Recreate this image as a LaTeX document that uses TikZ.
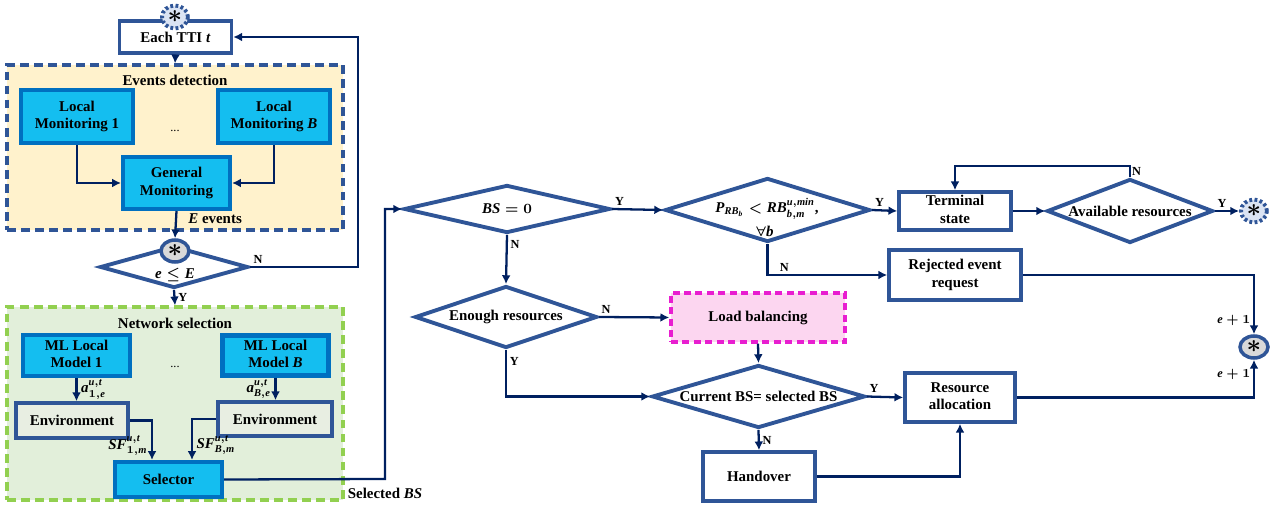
\documentclass[tikz,border=0pt]{standalone}
\usepackage{fontspec}
\setmainfont{Liberation Serif}
\usepackage{amsmath}
\usetikzlibrary{shapes.geometric,arrows.meta}

\definecolor{boxblue}{RGB}{47,85,151}
\definecolor{arrblue}{RGB}{0,32,96}
\definecolor{cyanfill}{RGB}{20,190,240}
\definecolor{cyanline}{RGB}{0,112,192}
\definecolor{evfill}{RGB}{255,242,204}
\definecolor{nsfill}{RGB}{226,239,218}
\definecolor{nsline}{RGB}{146,208,80}
\definecolor{envfill}{RGB}{232,238,226}
\definecolor{lbfill}{RGB}{252,214,240}
\definecolor{lbline}{RGB}{232,30,208}
\definecolor{starfill}{RGB}{217,217,217}
\definecolor{dotfill}{RGB}{218,227,243}

\newcommand{\starmark}{\fontsize{14}{14}\selectfont$\ast$}
\newcommand{\dtext}[1]{\makebox[0pt]{#1}}
\newcommand{\mv}[1]{\text{\itshape #1}}

\tikzset{
	every node/.style={font=\fontsize{8.5}{10}\selectfont\bfseries\boldmath},
	plainbox/.style={draw=boxblue, line width=2pt, fill=white, inner sep=0pt},
	cyanbox/.style={draw=cyanline, line width=2.3pt, fill=cyanfill, inner sep=0pt},
	envbox/.style={draw=boxblue, line width=2pt, fill=envfill, inner sep=0pt},
	decision/.style={diamond, draw=boxblue, line width=2.2pt, fill=white, inner sep=0pt},
	group/.style={line width=1.9pt, inner sep=0pt, dash pattern=on 5pt off 3pt},
	arr/.style={draw=arrblue, line width=1.3pt, -{Latex[length=5pt,width=5pt]}},
	lbl/.style={font=\fontsize{7}{8}\selectfont\bfseries\boldmath, inner sep=1.5pt},
	loopstar/.style={ellipse, draw=boxblue, line width=2pt, fill=starfill, minimum width=0.56cm, minimum height=0.44cm, inner sep=0pt},
	endstar/.style={ellipse, draw=boxblue, line width=2.2pt, fill=dotfill, dash pattern=on 1.6pt off 1.4pt, minimum width=0.52cm, minimum height=0.46cm, inner sep=0pt}
}

\begin{document}
\begin{tikzpicture}[x=0.02cm, y=-0.02cm]
	\useasboundingbox (0,0) rectangle (1272,506);

	% events detection
	\node[group, draw=boxblue, fill=evfill, minimum width=6.72cm, minimum height=3.3cm] (evbox) at (175,147.5) {};
	\node (evtitle) at (175,80) {Events detection};
	\node[plainbox, minimum width=2.24cm, minimum height=0.64cm] (tti) at (175.5,37) {Each TTI \textit{t}};
	\node[endstar] (topstar) at (175,17) {\starmark};
	\node[cyanbox, minimum width=2.24cm, minimum height=1.06cm] (lm1) at (77,116.5) {\begin{tabular}{c} Local \\ Monitoring 1 \end{tabular}};
	\node[cyanbox, minimum width=2.24cm, minimum height=1.06cm] (lmb) at (274,116.5) {\begin{tabular}{c} Local \\ Monitoring \textit{B} \end{tabular}};
	\node[font=\fontsize{7}{8}\selectfont] (dots1) at (175,131) {...};
	\node[cyanbox, minimum width=2.14cm, minimum height=1.04cm] (gm) at (176.5,183) {\begin{tabular}{c} General \\ Monitoring \end{tabular}};
	\draw[arr] (tti.south) -- (evbox.north);
	\draw[arr] (lm1.south) |- (gm.west);
	\draw[arr] (lmb.south) |- (gm.east);

	% loop over events
	\node[decision, minimum width=2.96cm, minimum height=0.84cm] (ele) at (174,267) {};
	\node[loopstar] (elestar) at (175,251) {\starmark};
	\node (eletext) at (175,275) {$\mv{e} \leq \mv{E}$};
	\coordinate (nback) at (358,267);
	\draw[arr] (gm.south) -- (elestar.north) node[pos=0.3, right=3pt] (evlbl) {\textit{E} events};
	\draw[arr] (ele.east) node[lbl, above right] (nele) {N} -- (nback) |- (tti.east);

	% network selection
	\node[group, draw=nsline, fill=nsfill, minimum width=6.72cm, minimum height=3.86cm] (nsbox) at (175,403.5) {};
	\draw[arr] (ele.south) -- (nsbox.north) node[midway, right, lbl] (yele) {Y};
	\node (nstitle) at (175,323) {Network selection};
	\node[cyanbox, minimum width=2.14cm, minimum height=0.82cm] (ml1) at (76.5,355.5) {\begin{tabular}{c} ML Local \\ Model 1 \end{tabular}};
	\node[cyanbox, minimum width=2.12cm, minimum height=0.8cm] (mlb) at (275.5,355.5) {\begin{tabular}{c} ML Local \\ Model \textit{B} \end{tabular}};
	\node[font=\fontsize{7}{8}\selectfont] (dots2) at (175,367) {...};
	\node[envbox, minimum width=2.24cm, minimum height=0.7cm] (env1) at (72,420.5) {Environment};
	\node[envbox, minimum width=2.28cm, minimum height=0.68cm] (envb) at (275,419) {Environment};
	\node[cyanbox, minimum width=2.14cm, minimum height=0.7cm] (sel) at (168.5,479.5) {Selector};
	\draw[arr] (ml1.south) -- (ml1.south |- env1.north) node[midway, right, inner sep=2pt] (a1) {$\mv{a}^{\mv{u},\mv{t}}_{1,\mv{e}}$};
	\draw[arr] (mlb.south) -- (mlb.south |- envb.north) node[midway, left, inner sep=2pt] (ab) {$\mv{a}^{\mv{u},\mv{t}}_{\mv{B},\mv{e}}$};
	\draw[arr] (env1.east) -| ([xshift=-0.33cm]sel.north) node[pos=0.82, left, inner sep=2pt] (sf1) {$\mv{SF}^{\mv{u},\mv{t}}_{1,\mv{m}}$};
	\draw[arr] (envb.west) -| ([xshift=0.47cm]sel.north) node[pos=0.82, right, inner sep=2pt] (sfb) {$\mv{SF}^{\mv{u},\mv{t}}_{\mv{B},\mv{m}}$};

	% decisions on the selected BS
	\node[decision, minimum width=4.12cm, minimum height=0.96cm] (bs0) at (507,209) {\dtext{$\mv{BS} = 0$}};
	\node[decision, minimum width=4.1cm, minimum height=1.28cm] (pdec) at (767.5,210) {};
	\node (ptext) at (767,209) {$\mv{P}_{\mv{RB}_{\mv{b}}} < \mv{RB}^{\mv{u},\mv{min}}_{\mv{b},\mv{m}}$,};
	\node (pall) at (765,231) {$\forall \mv{b}$};
	\node[decision, minimum width=3.64cm, minimum height=1.24cm] (enough) at (506,317) {\dtext{Enough resources}};
	\node[draw=lbline, fill=lbfill, line width=2pt, dash pattern=on 4pt off 2.5pt, minimum width=3.48cm, minimum height=0.98cm] (lb) at (758,317.5) {Load balancing};
	\node[decision, minimum width=4.26cm, minimum height=1.26cm] (cur) at (758.5,396.5) {\dtext{Current BS= selected BS}};
	\node[plainbox, minimum width=2.24cm, minimum height=0.98cm] (ho) at (759,476.5) {Handover};
	\node[plainbox, minimum width=2.2cm, minimum height=0.98cm] (ra) at (960,397.5) {\begin{tabular}{c} Resource \\ allocation \end{tabular}};
	\node[plainbox, minimum width=2.64cm, minimum height=1.0cm] (rer) at (955,275) {\begin{tabular}{c} Rejected event \\ request \end{tabular}};
	\node[plainbox, minimum width=2.24cm, minimum height=0.76cm] (ts) at (955,211) {\begin{tabular}{c} Terminal \\ state \end{tabular}};
	\node[decision, minimum width=3.32cm, minimum height=1.28cm] (av) at (1130,211) {\dtext{Available resources}};
	\node[endstar] (endstar) at (1254,211) {\starmark};
	\node[loopstar] (nextstar) at (1254,347) {\starmark};

	\coordinate (selturn) at (385,479);
	\coordinate (avtop) at (1130,166);
	\draw[arr] (sel.east) -- (selturn) node[below=1pt] (selbs) {Selected \textit{BS}} |- (bs0.west);
	\draw[arr] (bs0.east) -- (pdec.west) node[pos=0.15, above, lbl] (ybs) {Y};
	\draw[arr] (bs0.south) -- (enough.north) node[pos=0.2, right, lbl] (nbs) {N};
	\draw[arr] (pdec.south) |- (rer.west) node[pos=0.57, above, lbl] (np) {N};
	\draw[arr] (pdec.east) -- (ts.west) node[pos=0.3, above, lbl] (yp) {Y};
	\draw[arr] (ts.east) -- (av.west);
	\draw[arr] (av.north) node[lbl, above right=-1pt] (nav) {N} -- (avtop) -| (ts.north);
	\draw[arr] (av.east) -- (endstar.west) node[pos=0.3, above, lbl] (yav) {Y};
	\draw[arr] (enough.east) -- (lb.west) node[pos=0.1, above, lbl] (nen) {N};
	\draw[arr] (enough.south) |- (cur.west) node[pos=0.12, right, lbl] (yen) {Y};
	\draw[arr] (lb.south) -- (cur.north);
	\draw[arr] (cur.east) -- (ra.west) node[pos=0.2, above, lbl] (ycur) {Y};
	\draw[arr] (cur.south) -- (ho.north) node[midway, right, lbl] (ncur) {N};
	\draw[arr] (ho.east) -| (ra.south);
	\draw[arr] (ra.east) -| (nextstar.south) node[pos=0.8, left, lbl] (inc1) {$\mv{e}+1$};
	\draw[arr] (rer.east) -| (nextstar.north) node[pos=0.88, left, lbl] (inc2) {$\mv{e}+1$};
\end{tikzpicture}
\end{document}
